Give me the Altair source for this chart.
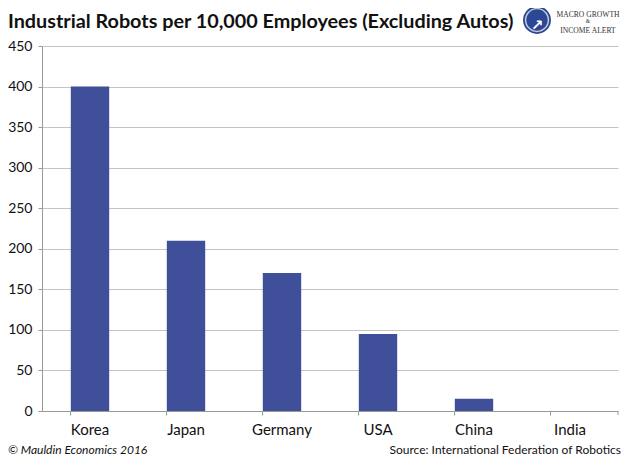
import altair as alt
import pandas as pd

countries = ["Korea", "Japan", "Germany", "USA", "China", "India"]
robots = [400, 210, 170, 95, 15, 0]
y_ticks = [0, 50, 100, 150, 200, 250, 300, 350, 400, 450]

title_text = "Industrial Robots per 10,000 Employees (Excluding Autos)"
left_note = "© Mauldin Economics 2016"
right_note = "Source: International Federation of Robotics"
logo_lines = ["MACRO GROWTH", "&", "INCOME ALERT"]

df = pd.DataFrame({"country": countries, "robots": robots})

W, H = 576, 365
FONT = "Lato"

bars = alt.Chart(df).mark_bar(color="#3F4F99").encode(
    x=alt.X("country:N", sort=countries, title=None,
            scale=alt.Scale(paddingInner=0.6, paddingOuter=0.3),
            axis=alt.Axis(labelAngle=0, labelFont=FONT, labelFontSize=15, labelColor="#111",
                          labelPadding=7, bandPosition=0, tickSize=4, tickColor="#999",
                          domainColor="#999", grid=False)),
    y=alt.Y("robots:Q", title=None,
            scale=alt.Scale(domain=[0, 450], nice=False),
            axis=alt.Axis(values=y_ticks, labelFont=FONT, labelFontSize=14, labelColor="#111",
                          labelPadding=6, tickSize=4, tickColor="#999", domainColor="#999",
                          gridColor="#c4c4c4", gridWidth=1.2)),
)

end_tick = alt.Chart(df.head(1)).mark_rule(color="#999").encode(
    x=alt.value(W), y=alt.value(H), y2=alt.value(H + 4))

def label(text, x, y, **kw):
    return alt.Chart(pd.DataFrame({"t": [text]})).mark_text(**kw).encode(
        text="t:N", x=alt.value(x), y=alt.value(y))

title = label(title_text, -34, -18, font=FONT, fontSize=19.8, fontWeight="bold",
              align="left", baseline="alphabetic", color="#111")
left = label(left_note, -34, 408, font=FONT, fontSize=12, fontStyle="italic",
             align="left", baseline="alphabetic", color="#111")
right = label(right_note, 579, 408, font=FONT, fontSize=12,
              align="right", baseline="alphabetic", color="#111")

logo_outer = alt.Chart(df.head(1)).mark_point(
    shape="circle", filled=True, color="#2c4894", size=780, opacity=1).encode(
    x=alt.value(495), y=alt.value(-26))
logo_ring = alt.Chart(df.head(1)).mark_point(
    shape="circle", filled=False, color="white", size=520, strokeWidth=1.5).encode(
    x=alt.value(495), y=alt.value(-26))
logo_mark = label("↗", 495, -21, font="DejaVu Sans", fontSize=15, fontWeight="bold",
                  align="center", color="white")
logo1 = label(logo_lines[0], 546, -29, font="Liberation Serif", fontSize=7.6,
              align="center", baseline="alphabetic", color="#333")
logo2 = label(logo_lines[1], 546, -23, font="Liberation Serif", fontSize=5.5,
              align="center", baseline="alphabetic", color="#333")
logo3 = label(logo_lines[2], 546, -13, font="Liberation Serif", fontSize=7.6,
              align="center", baseline="alphabetic", color="#333")

chart = alt.layer(bars, end_tick, title, left, right, logo_outer, logo_ring, logo_mark,
                  logo1, logo2, logo3).properties(
    width=W, height=H,
    autosize=alt.AutoSizeParams(type="none"),
    padding={"left": 34, "top": 38, "right": 4, "bottom": 48},
    background="white",
).configure_view(stroke=None)

chart.save("out.html", embed_options={"renderer": "svg", "actions": False})
